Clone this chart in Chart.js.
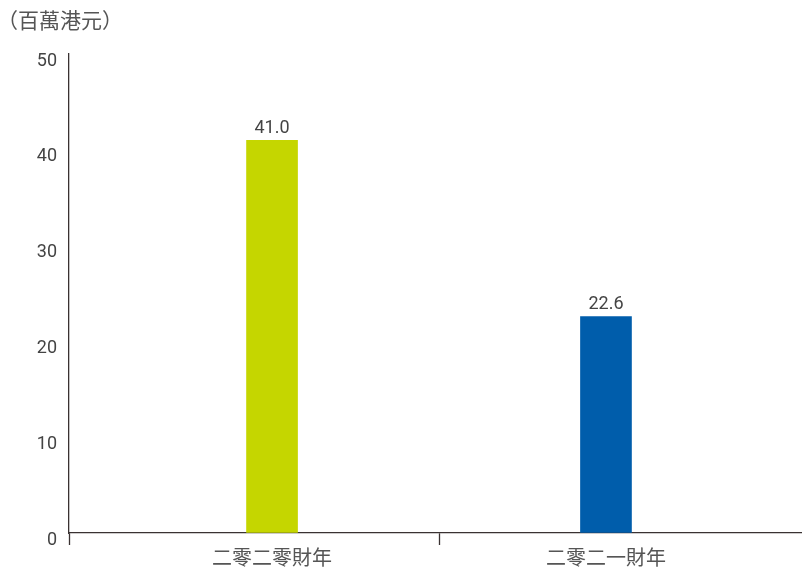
<!DOCTYPE html>
<html>
<head>
<meta charset="utf-8">
<script src="https://cdn.jsdelivr.net/npm/chart.js@4"></script>
<style>
  html, body { margin: 0; padding: 0; background: #ffffff; }
  #wrap { width: 802px; height: 568px; }
</style>
</head>
<body>
<div id="wrap"><canvas id="chart" width="802" height="568"></canvas></div>
<script>
// Fiscal years and amounts (HK$ million)
const categories = ['二零二零財年', '二零二一財年'];
const values = [41.0, 22.6];
const barColors = ['#c5d600', '#005dab'];
const yTicks = [0, 10, 20, 30, 40, 50];
const unitLabel = '（百萬港元）';

const axisColor = '#3a3232';
const textColor = '#444444';
const cjkFont = '"Noto Sans CJK TC", "Noto Sans CJK SC", sans-serif';

// Value label above every bar
const valueLabels = {
  id: 'valueLabels',
  afterDatasetsDraw(chart) {
    const ctx = chart.ctx;
    const meta = chart.getDatasetMeta(0);
    ctx.save();
    ctx.font = '18px Roboto, "DejaVu Sans", sans-serif';
    ctx.fillStyle = textColor;
    ctx.textAlign = 'center';
    ctx.textBaseline = 'alphabetic';
    meta.data.forEach((bar, i) => {
      ctx.fillText(values[i].toFixed(1), bar.x, bar.y - 7);
    });
    ctx.restore();
  }
};

// Unit caption in the top-left corner
const unitCaption = {
  id: 'unitCaption',
  afterDraw(chart) {
    const ctx = chart.ctx;
    ctx.save();
    ctx.font = '21px ' + cjkFont;
    ctx.fillStyle = '#555555';
    ctx.textAlign = 'left';
    ctx.textBaseline = 'middle';
    ctx.fillText(unitLabel, -3, 20);
    ctx.restore();
  }
};

new Chart(document.getElementById('chart'), {
  type: 'bar',
  data: {
    datasets: [{
      data: values.map((v, i) => ({ x: i, y: v })),
      backgroundColor: barColors,
      borderWidth: 0,
      barThickness: 51
    }]
  },
  options: {
    responsive: false,
    animation: false,
    layout: { padding: { top: 54, right: 0, bottom: 0, left: 0 } },
    plugins: {
      legend: { display: false },
      tooltip: { enabled: false },
      title: { display: false }
    },
    scales: {
      x: {
        type: 'linear',
        min: -0.608,
        max: 1.587,
        offset: false,
        afterBuildTicks(scale) {
          scale.ticks = [
            { value: scale.min },
            { value: 0 },
            { value: 0.5 },
            { value: 1 }
          ];
        },
        afterFit(scale) { scale.height = 35; },
        border: { display: true, color: axisColor, width: 1.3 },
        grid: {
          offset: false,
          drawOnChartArea: false,
          drawTicks: true,
          tickLength: 12,
          tickWidth: 1.3,
          tickColor: (c) => (c.tick && Number.isInteger(c.tick.value)) ? 'rgba(0,0,0,0)' : axisColor
        },
        ticks: {
          autoSkip: false,
          maxRotation: 0,
          padding: 0,
          color: '#555555',
          font: { family: cjkFont, size: 20 },
          callback: (v) => (Number.isInteger(v) && categories[v] !== undefined) ? categories[v] : ''
        }
      },
      y: {
        min: yTicks[0],
        max: yTicks[yTicks.length - 1],
        afterBuildTicks(scale) {
          scale.ticks = yTicks.map(v => ({ value: v }));
        },
        afterFit(scale) { scale.width = 69; },
        border: { display: true, color: axisColor, width: 1.3 },
        grid: { drawOnChartArea: false, drawTicks: false },
        ticks: {
          padding: 12,
          labelOffset: 7,
          color: textColor,
          font: { family: 'Roboto, "DejaVu Sans", sans-serif', size: 18 }
        }
      }
    }
  },
  plugins: [valueLabels, unitCaption]
});
</script>
</body>
</html>
